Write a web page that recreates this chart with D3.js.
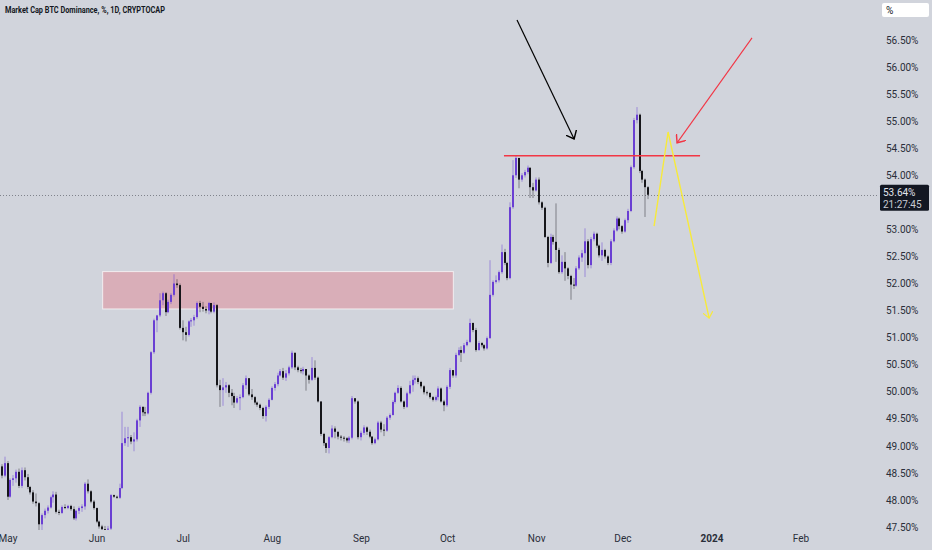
<!DOCTYPE html>
<html>
<head>
<meta charset="utf-8">
<script src="https://cdn.jsdelivr.net/npm/d3@7"></script>
<style>
  html, body { margin: 0; padding: 0; background: #d1d4dc; }
  svg { display: block; }
</style>
</head>
<body>
<script>
// Daily candles of BTC dominance, first candle on startDate, one per day
var startDate = "2023-04-29";
var firstOpen = 48.62;

var closes = [
  48.45,48.68,48.06,48.37,48.40,48.52,48.26,48.55,48.42,48.24,
  48.14,47.97,47.94,47.55,47.72,47.80,47.86,48.05,48.10,47.78,
  47.76,47.87,47.85,47.89,47.83,47.66,47.80,47.85,47.88,48.30,
  48.16,47.97,47.85,47.60,47.51,47.46,47.45,47.47,48.09,48.06,
  48.04,48.22,49.05,49.14,49.16,49.08,49.12,49.47,49.72,49.62,
  49.60,49.98,50.73,51.32,51.41,51.69,51.82,51.47,51.66,51.79,
  52.00,51.97,51.18,51.10,51.05,51.30,51.32,51.38,51.64,51.57,
  51.53,51.50,51.64,51.48,51.60,50.12,50.03,50.08,50.12,49.98,
  49.92,49.80,49.88,49.90,50.12,50.25,49.95,49.90,49.80,49.76,
  49.70,49.55,49.72,49.85,50.07,50.14,50.30,50.38,50.26,50.34,
  50.45,50.72,50.45,50.40,50.38,50.42,50.30,50.22,50.44,50.26,
  49.82,49.22,49.05,48.96,49.16,49.32,49.26,49.17,49.15,49.14,
  49.10,49.15,49.88,49.82,49.16,49.24,49.34,49.26,49.17,49.05,
  49.12,49.43,49.30,49.28,49.52,49.57,49.81,49.98,50.07,49.82,
  49.72,49.97,50.12,50.22,50.25,50.18,50.10,49.99,49.98,49.90,
  49.85,49.90,50.06,49.82,49.75,50.09,50.40,50.30,50.68,50.77,
  50.72,50.86,50.92,51.27,51.14,50.77,50.90,50.86,50.80,50.99,
  51.79,52.03,52.06,52.21,52.58,52.38,52.10,53.41,54.00,54.32,
  53.92,54.00,54.06,54.14,53.78,53.72,53.92,53.50,53.40,52.86,
  52.38,52.86,52.77,52.62,52.21,52.40,52.28,52.14,51.98,51.96,
  52.28,52.48,52.56,52.78,52.34,52.82,52.92,52.70,52.52,52.62,
  52.50,52.38,52.78,52.98,53.20,53.06,52.96,53.17,53.34,54.15,
  55.02,55.12,54.08,53.92,53.78,53.64
];

var highs = [
  48.66,48.80,48.72,48.40,48.46,48.56,48.58,48.60,48.60,48.48,
  48.26,48.18,48.12,47.96,47.75,47.84,47.90,48.08,48.16,48.15,
  47.82,47.90,47.92,47.91,47.91,47.88,47.82,47.88,47.92,48.33,
  48.38,48.18,48.00,47.86,47.62,47.54,47.52,47.52,48.11,48.10,
  48.08,48.30,49.63,49.35,49.35,49.20,49.25,49.50,49.75,49.73,
  49.72,50.00,50.75,51.35,51.42,51.82,51.85,51.84,51.70,51.82,
  52.17,52.08,52.00,51.32,51.20,51.32,51.36,51.42,51.67,51.68,
  51.66,51.58,51.66,51.64,51.65,51.62,50.22,50.25,50.18,50.14,
  50.05,49.98,49.92,49.95,50.16,50.30,50.25,50.05,49.92,49.82,
  49.78,49.72,49.75,49.88,50.10,50.18,50.35,50.42,50.44,50.40,
  50.48,50.76,50.68,50.48,50.44,50.46,50.40,50.32,50.64,50.58,
  50.28,49.75,49.24,49.06,49.18,49.38,49.36,49.26,49.20,49.18,
  49.16,49.18,49.92,49.88,49.84,49.28,49.38,49.36,49.30,49.18,
  49.15,49.46,49.46,49.40,49.55,49.60,49.84,50.00,50.12,50.10,
  49.84,50.00,50.20,50.30,50.30,50.28,50.20,50.12,50.02,49.98,
  49.92,49.93,50.10,50.08,49.85,50.12,50.44,50.40,50.72,50.82,
  50.84,50.90,50.96,51.35,51.28,51.18,50.94,50.92,50.88,51.02,
  52.43,52.06,52.15,52.24,52.72,52.64,52.40,53.50,54.28,54.36,
  54.30,54.04,54.10,54.18,54.14,53.86,53.96,53.96,53.52,53.42,
  52.88,52.92,52.90,53.48,52.66,52.52,52.58,52.30,52.16,52.10,
  52.32,52.52,52.62,53.02,52.82,52.86,52.96,52.94,52.72,52.76,
  52.64,52.52,52.82,53.02,53.24,53.22,53.08,53.20,53.38,54.18,
  55.06,55.26,55.14,54.10,53.94,53.80
];

var lows = [
  48.40,48.42,48.00,48.04,48.26,48.32,48.22,48.22,48.36,48.20,
  48.10,47.93,47.88,47.42,47.42,47.66,47.75,47.84,47.95,47.75,
  47.72,47.74,47.83,47.83,47.80,47.63,47.62,47.74,47.78,47.82,
  48.12,47.94,47.82,47.57,47.47,47.40,47.40,47.40,47.44,48.04,
  48.02,48.02,48.20,49.00,48.98,49.03,48.90,49.08,49.35,49.55,
  49.55,49.58,49.95,50.70,51.10,51.38,51.60,51.40,51.45,51.62,
  51.76,51.92,51.15,50.95,50.93,51.02,51.20,51.22,51.35,51.47,
  51.48,51.45,51.43,51.45,51.45,50.08,49.72,49.74,49.98,49.90,
  49.75,49.70,49.78,49.66,49.88,50.05,49.92,49.85,49.76,49.72,
  49.66,49.50,49.45,49.68,49.84,50.02,50.10,50.28,50.22,50.20,
  50.30,50.42,50.40,50.36,50.34,50.32,50.02,50.15,50.20,50.22,
  49.80,49.18,49.00,48.87,48.86,49.14,49.14,49.12,49.10,49.08,
  49.06,49.05,49.12,49.78,49.12,49.10,49.20,49.20,49.14,49.02,
  49.03,49.10,49.25,49.18,49.26,49.48,49.56,49.78,49.96,49.80,
  49.68,49.70,49.95,50.00,50.15,50.14,50.06,49.95,49.93,49.87,
  49.82,49.82,49.84,49.80,49.64,49.72,50.05,50.26,50.26,50.66,
  50.55,50.70,50.84,50.90,51.10,50.74,50.76,50.82,50.76,50.78,
  50.98,51.76,52.00,52.02,52.18,52.34,52.06,52.08,53.38,53.95,
  53.76,53.88,53.96,54.02,53.58,53.58,53.70,53.46,53.36,52.84,
  52.30,52.36,52.72,52.40,52.18,52.18,52.05,52.08,51.70,51.90,
  51.94,52.25,52.40,52.12,52.28,52.28,52.78,52.66,52.48,52.42,
  52.46,52.34,52.34,52.76,52.96,53.00,52.92,52.94,53.12,53.32,
  54.12,54.96,54.04,53.86,53.23,53.56
];

// axis ticks
var yTicks = [47.5,48,48.5,49,49.5,50,50.5,51,51.5,52,52.5,53,54,54.5,55,55.5,56,56.5];
var monthDates = ["2023-05-01","2023-06-01","2023-07-01","2023-08-01","2023-09-01",
                  "2023-10-01","2023-11-01","2023-12-01","2024-01-01","2024-02-01"];
var monthLabels = ["May","Jun","Jul","Aug","Sep","Oct","Nov","Dec","2024","Feb"];

// last price label
var lastPrice = 53.64;
var lastTime = "21:27:45";

// drawings on the chart: [time, value]
var zoneCorners = [["2023-06-03T03:00Z", 52.22], ["2023-10-03T04:00Z", 51.53]];
var resistance = [["2023-10-20T19:00Z", 54.36], ["2023-12-28T01:00Z", 54.36]];
var blackArrow = [["2023-10-25T08:00Z", 56.87], ["2023-11-14T05:00Z", 54.67]];
var redArrow = [["2024-01-15T03:00Z", 56.54], ["2023-12-20T01:00Z", 54.60]];
var yellowPath = [["2023-12-12T01:00Z", 53.06], ["2023-12-16T22:00Z", 54.80], ["2023-12-31T05:00Z", 51.36]];

var width = 932;
var height = 550;
var upColor = "#6a3fd3";
var downColor = "#16161a";

var parseDay = d3.utcParse("%Y-%m-%d");
var start = parseDay(startDate);

var candles = closes.map(function(c, i) {
  return {
    date: d3.utcDay.offset(start, i),
    open: i == 0 ? firstOpen : closes[i - 1],
    high: highs[i],
    low: lows[i],
    close: c
  };
});

var x = d3.scaleUtc()
  .domain([parseDay("2023-05-01"), parseDay("2024-02-01")])
  .range([7.5, 800.5]);

var y = d3.scaleLinear()
  .domain([47.5, 56.5])
  .range([527, 40]);

var svg = d3.select("body")
  .append("svg")
  .attr("width", width)
  .attr("height", height)
  .style("font-family", "Roboto, 'DejaVu Sans', sans-serif");

svg.append("rect")
  .attr("width", width)
  .attr("height", height)
  .attr("fill", "#d1d4dc");

var defs = svg.append("defs");
defs.append("clipPath").attr("id", "plot")
  .append("rect").attr("x", 0).attr("y", 0).attr("width", 878).attr("height", 530);
defs.append("clipPath").attr("id", "axisclip")
  .append("rect").attr("x", 860).attr("y", 0).attr("width", 72).attr("height", 531);

function marker(id, color, size) {
  defs.append("marker")
    .attr("id", id)
    .attr("viewBox", "0 0 10 10")
    .attr("refX", 6)
    .attr("refY", 5)
    .attr("markerUnits", "userSpaceOnUse")
    .attr("markerWidth", size)
    .attr("markerHeight", size)
    .attr("orient", "auto")
    .append("path")
      .attr("d", "M0,0 L6,5 L0,10")
      .attr("fill", "none")
      .attr("stroke", color)
      .attr("stroke-width", 1.2);
}
marker("ah-black", "#000000", 12);
marker("ah-red", "#f23645", 12);
marker("ah-yellow", "#f7ea3c", 10);

var plot = svg.append("g").attr("clip-path", "url(#plot)");

var pt = function(p) { return [x(d3.isoParse(p[0])), y(p[1])]; };

// supply zone
var z0 = pt(zoneCorners[0]), z1 = pt(zoneCorners[1]);
plot.append("rect")
  .attr("x", z0[0])
  .attr("y", z0[1])
  .attr("width", z1[0] - z0[0])
  .attr("height", z1[1] - z0[1])
  .attr("fill", "rgba(242,54,69,0.24)")
  .attr("stroke", "rgba(255,255,255,0.7)")
  .attr("stroke-width", 1);

// last price dotted line
plot.append("line")
  .attr("x1", 0)
  .attr("x2", 880)
  .attr("y1", Math.round(y(lastPrice)) + 0.5)
  .attr("y2", Math.round(y(lastPrice)) + 0.5)
  .attr("stroke", "#80838c")
  .attr("stroke-dasharray", "1,2");

// candles
var candle = plot.append("g")
  .selectAll("g")
  .data(candles)
  .join("g")
    .attr("transform", d => "translate(" + Math.round(x(d.date)) + ",0)");

candle.append("rect")
  .attr("x", -0.5)
  .attr("width", 1)
  .attr("y", d => y(Math.max(d.high, d.open, d.close)))
  .attr("height", d => y(Math.min(d.low, d.open, d.close)) - y(Math.max(d.high, d.open, d.close)))
  .attr("fill", d => d.close >= d.open ? upColor : downColor)
  .attr("opacity", d => d.close >= d.open ? 0.5 : 0.45);

candle.append("rect")
  .attr("x", -1)
  .attr("width", 2)
  .attr("y", d => y(Math.max(d.open, d.close)))
  .attr("height", d => Math.max(1, y(Math.min(d.open, d.close)) - y(Math.max(d.open, d.close))))
  .attr("fill", d => d.close >= d.open ? upColor : downColor);

// resistance line
var line = d3.line().x(d => pt(d)[0]).y(d => pt(d)[1]);

plot.append("path")
  .attr("d", line(resistance))
  .attr("stroke", "#f23645")
  .attr("stroke-width", 1.6)
  .attr("fill", "none");

plot.append("path")
  .attr("d", line(blackArrow))
  .attr("stroke", "#000000")
  .attr("stroke-width", 1.2)
  .attr("fill", "none")
  .attr("marker-end", "url(#ah-black)");

plot.append("path")
  .attr("d", line(redArrow))
  .attr("stroke", "#f23645")
  .attr("stroke-width", 1.1)
  .attr("fill", "none")
  .attr("marker-end", "url(#ah-red)");

plot.append("path")
  .attr("d", line(yellowPath))
  .attr("stroke", "#f7ea3c")
  .attr("stroke-width", 1.4)
  .attr("fill", "none")
  .attr("stroke-linejoin", "miter")
  .attr("marker-end", "url(#ah-yellow)");

// right price axis
var yAxis = svg.append("g")
  .attr("clip-path", "url(#axisclip)")
  .append("g")
  .attr("transform", "translate(886,0)")
  .call(d3.axisRight(y).tickValues(yTicks).tickSize(0).tickPadding(0)
    .tickFormat(d => d.toFixed(2) + "%"));
yAxis.select(".domain").remove();
yAxis.selectAll("text")
  .attr("fill", "#2a2e39")
  .style("font-size", "10px")
  .style("font-family", "Roboto, sans-serif");

// bottom time axis
var xAxis = svg.append("g")
  .attr("transform", "translate(0,530)")
  .call(d3.axisBottom(x).tickValues(monthDates.map(parseDay)).tickSize(0).tickPadding(5)
    .tickFormat((d, i) => monthLabels[i]));
xAxis.select(".domain").remove();
xAxis.selectAll("text")
  .attr("fill", "#2a2e39")
  .style("font-size", "10px")
  .style("font-family", "Roboto, sans-serif")
  .style("font-weight", (d, i) => monthLabels[i] == "2024" ? "700" : "400");

// last price box
var py = y(lastPrice);
svg.append("rect")
  .attr("x", 880)
  .attr("y", py - 10)
  .attr("width", 49)
  .attr("height", 26)
  .attr("rx", 1.5)
  .attr("fill", "#131722");
svg.append("text")
  .attr("x", 883)
  .attr("y", py + 1.5)
  .attr("fill", "#e0e3eb")
  .style("font-size", "10px")
  .text(lastPrice.toFixed(2) + "%");
svg.append("text")
  .attr("x", 883)
  .attr("y", py + 13)
  .attr("fill", "#c8cbd3")
  .style("font-size", "10px")
  .text(lastTime);

// unit box
svg.append("rect")
  .attr("x", 882)
  .attr("y", 3)
  .attr("width", 47)
  .attr("height", 14)
  .attr("rx", 2)
  .attr("fill", "#ffffff");
svg.append("text")
  .attr("x", 886)
  .attr("y", 13.5)
  .attr("fill", "#131722")
  .style("font-size", "10px")
  .text("%");

// title
svg.append("text")
  .attr("x", 5)
  .attr("y", 12.5)
  .attr("fill", "#131722")
  .attr("textLength", 160)
  .attr("lengthAdjust", "spacingAndGlyphs")
  .style("font-size", "9px")
  .style("font-weight", "700")
  .text("Market Cap BTC Dominance, %, 1D, CRYPTOCAP");
</script>
</body>
</html>
